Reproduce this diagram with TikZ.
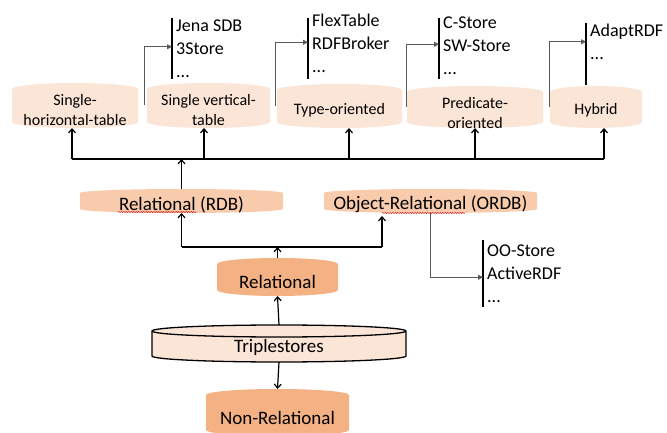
\documentclass[tikz,border=0pt]{standalone}
\usepackage{fontspec}
\setmainfont{Carlito}
\usetikzlibrary{arrows.meta,decorations.pathmorphing}

\definecolor{peachA}{HTML}{FBE5D6}
\definecolor{peachB}{HTML}{F8CBAD}
\definecolor{peachC}{HTML}{F4B183}
\definecolor{sidegray}{HTML}{595959}

% drum silhouette: x1, ytop, x2, ybottom, cap radius, path options
\newcommand\drumpath[6]{%
  \path[#6] (#1,#2+#5) -- (#1,#4-#5)
    arc[start angle=180,end angle=360,x radius={(#3-#1)*0.5pt},y radius={#5pt}]
    -- (#3,#2+#5)
    arc[start angle=0,end angle=180,x radius={(#3-#1)*0.5pt},y radius={#5pt}]
    -- cycle;}
% front rim of the top cap
\newcommand\drumrim[6]{%
  \path[#6] (#1,#2+#5)
    arc[start angle=180,end angle=360,x radius={(#3-#1)*0.5pt},y radius={#5pt}];}
% drum with a named frame node spanning it: name, x1, ytop, x2, ybottom, cap radius, options
\newcommand\drumnode[7]{%
  \drumpath{#2}{#3}{#4}{#5}{#6}{#7}%
  \node[frame, minimum width={(#4-#2)*1pt}, minimum height={(#5-#3)*1pt}]
    (#1) at ({(#2+#4)/2},{(#3+#5)/2}) {};}

\tikzset{
  frame/.style={inner sep=0pt, outer sep=0pt},
  link/.style={line width=1.2pt, black},
  arr/.style={link, -{Straight Barb[length=4pt,width=7pt,line width=1.2pt]}},
  side/.style={line width=0.8pt, sidegray, -{Triangle[length=5pt,width=5pt]}},
  bar/.style={line width=1.4pt, black},
  toplbl/.style={font=\fontsize{16}{20}\selectfont, align=center, inner sep=0pt},
  midlbl/.style={font=\fontsize{19}{23}\selectfont, inner sep=0pt},
  listlbl/.style={font=\fontsize{18}{23}\selectfont, align=left, anchor=north west,
                  inner xsep=4pt, inner ysep=0pt},
  squiggle/.style={red!85!black, line width=0.4pt, decorate,
                   decoration={snake, amplitude=0.6pt, segment length=2.5pt}},
}

\begin{document}
\begin{tikzpicture}[x=1pt, y=-1pt]
\useasboundingbox (0,0) rectangle (667,433);

% ---- storage layouts (top tier)
\drumnode{sht}{12}{83}{138}{128}{6}{fill=peachA}
\drumnode{svt}{147}{83}{270}{128}{6}{fill=peachA}
\drumnode{typ}{277}{84}{402}{128}{6}{fill=peachA}
\drumnode{pre}{407}{86}{543}{128}{6}{fill=peachA}
\drumnode{hyb}{550}{86}{642}{128}{6}{fill=peachA}

\node[toplbl] (sht-t) at ([yshift=-4.5pt]sht.center) {Single-\\horizontal-table};
\node[toplbl] (svt-t) at ([yshift=-5pt]svt.center) {Single vertical-\\table};
\node[toplbl] (typ-t) at ([yshift=-4pt]typ.center) {Type-oriented};
\node[toplbl] (pre-t) at ([yshift=-6.5pt]pre.center) {Predicate-\\oriented};
\node[toplbl] (hyb-t) at ([yshift=-3pt]hyb.center) {Hybrid};

% ---- relational families
\drumnode{rdb}{80}{189}{283}{213}{4}{fill=peachB}
\drumnode{ordb}{324}{189}{537}{213}{4}{fill=peachB}
\node[midlbl] (rdb-t) at ([yshift=-3.5pt]rdb.center) {Relational (RDB)};
\node[midlbl] (ordb-t) at ([yshift=-3.5pt]ordb.center) {Object-Relational (ORDB)};
\draw[squiggle] (118,212) -- (197,212);
\draw[squiggle] (382,213) -- (465,213);

% ---- root and its two branches
\drumnode{rel}{217}{258}{338}{296}{6}{fill=peachC}
\node[midlbl] (rel-t) at ([yshift=-4.5pt]rel.center) {Relational};

\drumnode{trip}{152}{325}{406}{362}{6}{fill=peachA, draw=black, line width=1.3pt}
\drumrim{152}{325}{406}{362}{6}{draw=black, line width=1.3pt}
\node[midlbl] (trip-t) at ([yshift=-3.5pt]trip.center) {Triplestores};

\drumnode{nonrel}{206}{389}{349}{436}{6}{fill=peachC}
\node[midlbl] (nonrel-t) at (277.5,418) {Non-Relational};

% ---- example systems
\node[listlbl] (l1) at (172,17) {\rule{0pt}{14pt}Jena SDB\\3Store\\...};
\node[listlbl] (l2) at (308,12) {\rule{0pt}{14pt}FlexTable\\RDFBroker\\...};
\node[listlbl] (l3) at (439,14) {\rule{0pt}{14pt}C-Store\\SW-Store\\...};
\node[listlbl] (l4) at (586,22) {\rule{0pt}{14pt}AdaptRDF\\...};
\node[listlbl] (l5) at (483,242) {\rule{0pt}{14pt}OO-Store\\ActiveRDF\\...};

\draw[bar] (172,18) -- (172,79);
\draw[bar] (308,18) -- (308,79);
\draw[bar] (439,18) -- (439,79);
\draw[bar] (586,23) -- (586,85);
\draw[bar] (483,240) -- (483,307);

\draw[side] ([xshift=-3pt]svt.west) |- ([yshift=0.5pt]l1.west);
\draw[side] ([xshift=-2pt]typ.west) |- ([yshift=0pt]l2.west);
\draw[side] ([xshift=-1pt]pre.west) |- ([yshift=0pt]l3.west);
\draw[side] ([xshift=-1pt]hyb.west) |- ([yshift=-1pt]l4.west);
\draw[side] (ordb.south) |- ([yshift=-5pt]l5.west);

% ---- upper bus
\coordinate (busL) at (72,159);
\coordinate (busR) at (604,159);
\draw[link] (busL) -- (busR);
\draw[arr] (busL) -- (busL |- sht.south);
\draw[arr] ([xshift=-4.5pt]svt.south |- busL) -- ([xshift=-4.5pt]svt.south);
\draw[arr] ([xshift=9.5pt]typ.south |- busL) -- ([xshift=9.5pt]typ.south);
\draw[arr] (pre.south |- busL) -- (pre.south);
\draw[arr] (busR) -- (busR |- hyb.south);
\draw[arr] (rdb.north) -- (rdb.north |- busL);

% ---- lower bus
\coordinate (bus2L) at (181.5,247);
\coordinate (bus2R) at (382,247);
\draw[link] (bus2L) -- (bus2R);
\draw[arr] (rel.north) -- (rel.north |- bus2L);
\draw[arr] (bus2L) -- (rdb.south);
\draw[arr] (bus2R) -- ([yshift=-3pt]bus2R |- ordb.south);

% ---- triplestores
\draw[arr] (trip.north) -- (rel.south);
\draw[arr] (trip.south) -- (nonrel.north);
\end{tikzpicture}
\end{document}
